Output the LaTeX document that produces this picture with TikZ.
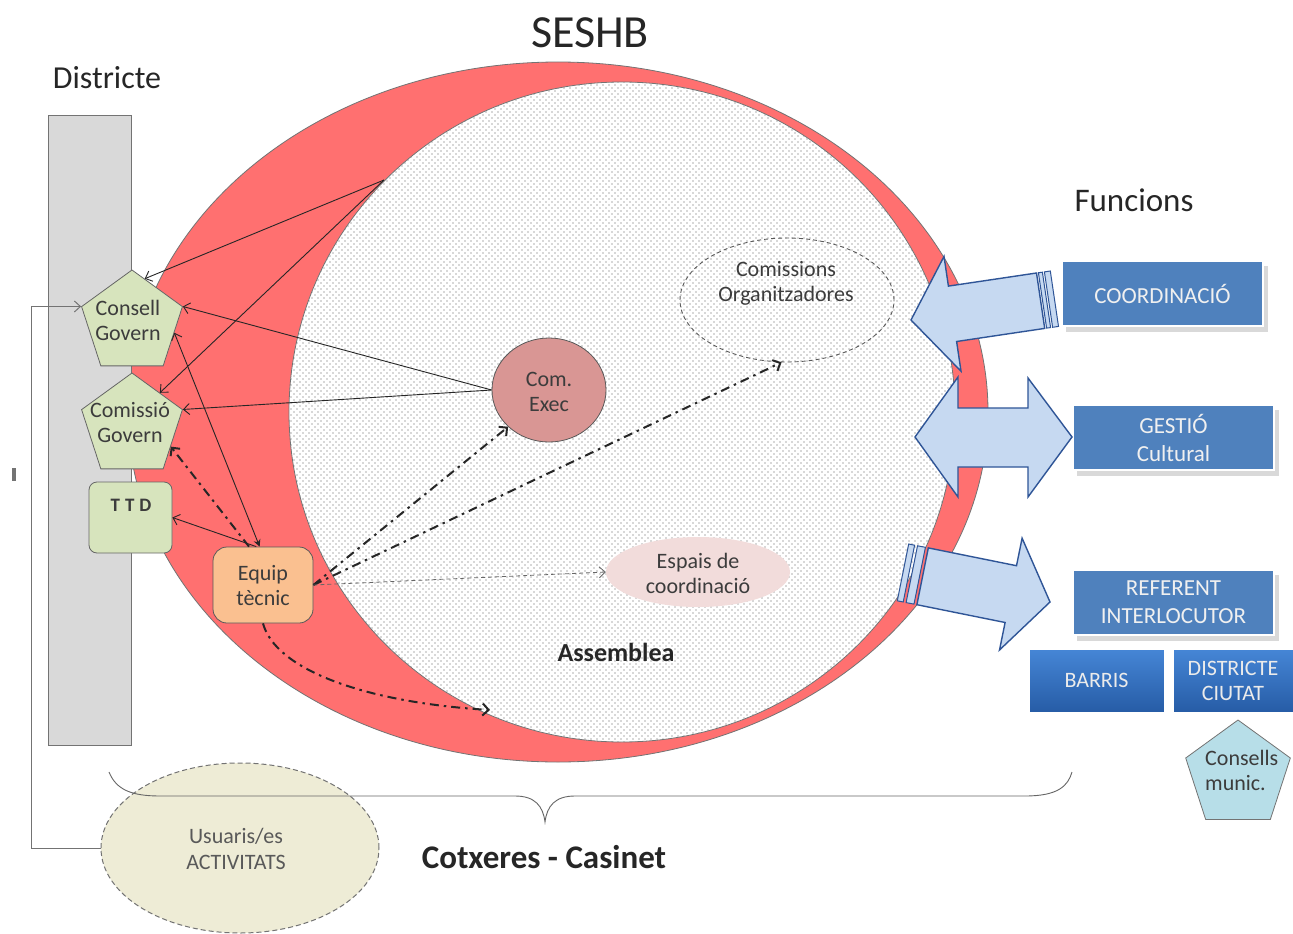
\documentclass[tikz,border=0pt]{standalone}
\usepackage{fontspec}
\setmainfont{Carlito}
\usetikzlibrary{shapes.geometric,arrows.meta,patterns,calc}
\pgfdeclarepatternformonly{mydots}{\pgfqpoint{-1pt}{-1pt}}{\pgfqpoint{4pt}{4pt}}{\pgfqpoint{6pt}{6pt}}{\pgfpathcircle{\pgfqpoint{0pt}{0pt}}{0.8pt}\pgfusepath{fill}\pgfpathcircle{\pgfqpoint{3pt}{3pt}}{0.8pt}\pgfusepath{fill}}
\definecolor{ringred}{RGB}{255,112,112}
\definecolor{greenfill}{RGB}{215,228,189}
\definecolor{orangefill}{RGB}{250,192,144}
\definecolor{rosefill}{RGB}{217,150,148}
\definecolor{pinkfill}{RGB}{242,220,219}
\definecolor{yellowfill}{RGB}{238,236,214}
\definecolor{cyanfill}{RGB}{183,222,232}
\definecolor{boxblue}{RGB}{79,129,189}
\definecolor{arrowfill}{RGB}{198,217,241}
\definecolor{arrowline}{RGB}{47,85,151}
\definecolor{txt}{RGB}{60,60,60}
\definecolor{grayrect}{RGB}{217,217,217}
\definecolor{gradtop}{RGB}{70,134,214}
\definecolor{gradbot}{RGB}{38,92,166}
\tikzset{
  lbl/.style={font=\fontsize{22}{25}\selectfont, text=txt, align=center, inner sep=0pt},
  pent/.style={regular polygon, regular polygon sides=5, minimum size=106pt, inner sep=0pt, fill=greenfill, draw=black!60, line width=0.8pt},
  conn/.style={draw=black!85, line width=0.9pt, -{Straight Barb[length=6pt,width=11pt]}},
  dashdot/.style={draw=black!85, line width=2pt, dash pattern=on 9pt off 5pt on 2.5pt off 5pt, -{Straight Barb[length=6pt,width=12pt]}},
  bluebox/.style={rectangle, fill=boxblue, draw=white, line width=1.5pt, text=white!94!black, font=\fontsize{23}{28}\selectfont, align=center, inner sep=0pt, minimum width=201pt, minimum height=65pt},
  gradbox/.style={rectangle, top color=gradtop, bottom color=gradbot, draw=white, line width=1pt, text=white!92!black, font=\fontsize{22}{25}\selectfont, align=center, inner sep=0pt, minimum height=63pt},
  shadowbox/.style={fill=black!15, draw=none},
  bigarrow/.style={fill=arrowfill, draw=arrowline, line width=1.4pt, line join=miter}
}
\begin{document}
\begin{tikzpicture}[x=1pt,y=-1pt]
\useasboundingbox (0,0) rectangle (1293,934);
\fill[white] (0,0) rectangle (1293,934);

% big ellipses
\node[ellipse, minimum width=860pt, minimum height=700pt, fill=ringred, draw=black!55, line width=0.8pt, inner sep=0pt] (ring) at (558,412) {};
\node[ellipse, minimum width=666pt, minimum height=660pt, draw=black!55, line width=0.8pt, preaction={fill=white}, pattern=mydots, pattern color=black!30, inner sep=0pt] (asm) at (622,412) {};

% district column
\node[rectangle, minimum width=83pt, minimum height=630pt, fill=grayrect, draw=black!55, line width=0.9pt, inner sep=0pt] (dist) at (89.5,430) {};

% titles
\node[font=\fontsize{46}{52}\selectfont, text=black!85, inner sep=0pt] (seshb) at (590,33) {SESHB};
\node[font=\fontsize{32}{36}\selectfont, text=black!85, inner sep=0pt] (districte) at (107,78) {Districte};
\node[font=\fontsize{33}{38}\selectfont, text=black!85, inner sep=0pt] (funcions) at (1134,200) {Funcions};

% left nodes
\node[pent] (cg) at (132,323) {};
\node[lbl] (cgt) at (128,320) {Consell\\Govern};
\node[pent] (cmg) at (132,426) {};
\node[lbl] (cmgt) at (130,423) {Comissió\\Govern};
\node[rectangle, rounded corners=8pt, minimum width=83pt, minimum height=71pt, fill=greenfill, draw=black!60, line width=0.8pt] (ttd) at (130.5,517.5) {};
\node[font=\bfseries\fontsize{19}{22}\selectfont, text=txt, inner sep=0pt] (ttdt) at (131,505) {T\hspace{5pt}T\hspace{5pt}D};
\node[rectangle, rounded corners=14pt, minimum width=100pt, minimum height=76pt, fill=orangefill, draw=black!65, line width=0.8pt] (eq) at (263,585) {};
\node[lbl] (eqt) at (263,586) {Equip\\tècnic};

% inner nodes
\node[ellipse, minimum width=114pt, minimum height=104pt, fill=rosefill, draw=black!65, line width=0.8pt, inner sep=0pt] (ce) at (549,390) {};
\node[lbl] (cet) at (549,392) {Com.\\Exec};
\node[ellipse, minimum width=214pt, minimum height=124pt, draw=black!65, dash pattern=on 4pt off 3pt, line width=0.9pt, inner sep=0pt] (co) at (787,300) {};
\node[lbl] (cot) at (786,283) {Comissions\\Organitzadores};
\node[ellipse, minimum width=184pt, minimum height=70pt, fill=pinkfill, inner sep=0pt] (ep) at (698,572) {};
\node[lbl] (ept) at (698,573) {Espais de\\coordinació};
\node[font=\bfseries\fontsize{26}{30}\selectfont, text=black!85, inner sep=0pt] (asmt) at (616,652) {Assemblea};

% bottom
\node[ellipse, minimum width=278pt, minimum height=170pt, fill=yellowfill, draw=black!55, dash pattern=on 5pt off 3pt, line width=1pt, inner sep=0pt] (us) at (240,848) {};
\node[lbl, text=black!65, font=\fontsize{22}{26}\selectfont] (ust) at (236,849) {Usuaris/es\\ACTIVITATS};
\draw[draw=black!60, line width=0.9pt] (109,772) .. controls (116,789) and (130,796) .. (160,796) -- (515,796) .. controls (535,796) and (543,806) .. (545,822) .. controls (547,806) and (555,796) .. (575,796) -- (1025,796) .. controls (1058,796) and (1068,786) .. (1072,772);
\node[font=\bfseries\fontsize{33}{38}\selectfont, text=black!85, inner sep=0pt] (cc) at (544,857) {Cotxeres - Casinet};

% small tick
\fill[black!55] (12,468) rectangle (16,481);

% right boxes
\fill[shadowbox] (1066,266) rectangle (1268,332);
\node[bluebox] (coord) at (1162.5,293.5) {COORDINACIÓ};
\fill[shadowbox] (1077,410) rectangle (1279,476);
\node[bluebox] (gest) at (1173.5,437.5) {GESTIÓ\\Cultural};
\fill[shadowbox] (1077,575) rectangle (1279,641);
\node[bluebox] (ref) at (1173.5,602.5) {REFERENT\\INTERLOCUTOR};
\node[gradbox, minimum width=135pt] (barris) at (1096.5,680.5) {BARRIS};
\node[gradbox, minimum width=120pt] (dc) at (1233,680.5) {DISTRICTE\\CIUTAT};
\node[pent, fill=cyanfill, draw=black!55, minimum size=110pt] (cm) at (1238,775) {};
\node[lbl, align=left, anchor=west, font=\fontsize{22}{25}\selectfont] (cmt) at (1205,770) {Consells\\munic.};

% connectors
\coordinate (p1) at (384,180);
\coordinate (cur) at (490,710);
\draw[conn] (p1) -- (cg.74);
\draw[conn] (p1) -- (cmg.50);
\draw[conn] (ce.west) -- (cg.corner 5);
\draw[conn] (ce.west) -- (cmg.corner 5);
\draw[draw=black!85, line width=0.9pt, {Stealth[length=7pt,width=7pt]}-{Straight Barb[length=6pt,width=11pt]}] (eq.95) -- (cg.-13);
\draw[conn] (eq.100) -- (ttd.east);
\draw[dashdot] (eq.110) -- (cmg.-28);
\draw[dashdot] (eq.east) -- (ce.222);
\draw[dashdot] (eq.east) -- (co.265);
\draw[draw=black!60, line width=0.8pt, dash pattern=on 4pt off 3pt, -{Straight Barb[length=6pt,width=11pt]}] (eq.east) -- (ep.west);
\draw[dashdot] (eq.south) .. controls (275,668) and (360,702) .. (cur);
\draw[draw=black!55, line width=1pt, -{Straight Barb[length=6pt,width=11pt]}] (us.west) -| ($(cg.corner 2)+(-50,0)$) -- (cg.corner 2);

% big arrows
\draw[bigarrow] (911,320) -- (944.0,256.4) -- (948.4,286.1) -- (1036.5,273.0) -- (1044.7,328.4) -- (956.6,341.5) -- (961.0,371.2) -- cycle;
\draw[bigarrow, line width=1pt] (1038.4,272.7) -- (1042.4,272.2) -- (1050.6,327.6) -- (1046.6,328.1) -- cycle;
\draw[bigarrow, line width=1pt] (1044.4,271.9) -- (1050.3,271.0) -- (1058.5,326.4) -- (1052.6,327.3) -- cycle;

\draw[bigarrow] (915,437) -- (958,377) -- (958,408) -- (1028,408) -- (1028,378) -- (1072,437) -- (1028,497) -- (1028,467) -- (958,467) -- (958,497) -- cycle;

\draw[bigarrow] (1050,602) -- (999.5,650.0) -- (1005.1,622.5) -- (916.9,604.7) -- (928.3,547.9) -- (1016.5,565.7) -- (1022.1,538.2) -- cycle;
\draw[bigarrow, line width=1pt] (925.4,547.3) -- (917.5,545.8) -- (906.1,602.6) -- (914.0,604.1) -- cycle;
\draw[bigarrow, line width=1pt] (914.6,545.2) -- (908.7,544.0) -- (897.3,600.8) -- (903.2,602.0) -- cycle;
\end{tikzpicture}
\end{document}
